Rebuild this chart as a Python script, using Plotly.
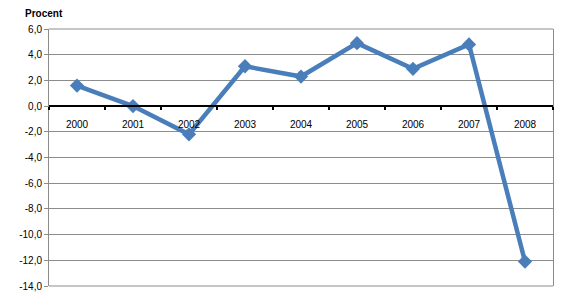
import plotly.graph_objects as go

years = ["2000", "2001", "2002", "2003", "2004", "2005", "2006", "2007", "2008"]
values = [1.6, 0.0, -2.2, 3.1, 2.3, 4.9, 2.9, 4.8, -12.1]
y_ticks = [6, 4, 2, 0, -2, -4, -6, -8, -10, -12, -14]
y_tick_labels = ["6,0", "4,0", "2,0", "0,0", "-2,0", "-4,0", "-6,0", "-8,0", "-10,0", "-12,0", "-14,0"]

LINE = "#4a7ebb"
GRID = "#8c8c8c"
FONT = "Liberation Sans, Arial, sans-serif"

fig = go.Figure()
fig.add_trace(go.Scatter(
    x=years, y=values, mode="lines+markers",
    line=dict(color=LINE, width=4.5),
    marker=dict(symbol="diamond", size=11, color=LINE),
    showlegend=False, cliponaxis=False,
))

fig.update_layout(
    width=569, height=304,
    margin=dict(l=49, r=16, t=29, b=16),
    paper_bgcolor="white", plot_bgcolor="white",
    font=dict(family=FONT, size=10, color="black"),
    xaxis=dict(
        type="category", anchor="free", position=0.7,
        showline=True, linecolor="black", linewidth=2,
        ticks="outside", tickson="boundaries", ticklen=3, tickwidth=2, tickcolor="black",
        showgrid=False, zeroline=False,
        tickfont=dict(size=10, family=FONT),
        ticklabelstandoff=9,
        range=[-0.5, 8.5],
    ),
    yaxis=dict(
        range=[-14, 6], tickvals=y_ticks, ticktext=y_tick_labels,
        showgrid=True, gridcolor=GRID, gridwidth=1,
        showline=True, linecolor=GRID, linewidth=1, mirror=True,
        ticks="outside", ticklen=4, tickcolor=GRID,
        zeroline=False, tickfont=dict(size=10, family=FONT),
    ),
    shapes=[
        dict(type="line", xref="paper", yref="paper", x0=0, x1=1, y0=1, y1=1,
             line=dict(color=GRID, width=1)),
        dict(type="line", xref="paper", yref="paper", x0=0, x1=1, y0=0, y1=0,
             line=dict(color=GRID, width=1)),
    ],
    annotations=[dict(text="<b>Procent</b>", xref="paper", yref="paper",
                      x=-0.052, y=1.0, yshift=8, xanchor="left", yanchor="bottom",
                      showarrow=False, font=dict(size=10, family=FONT))],
)

fig.write_html("out.html")
